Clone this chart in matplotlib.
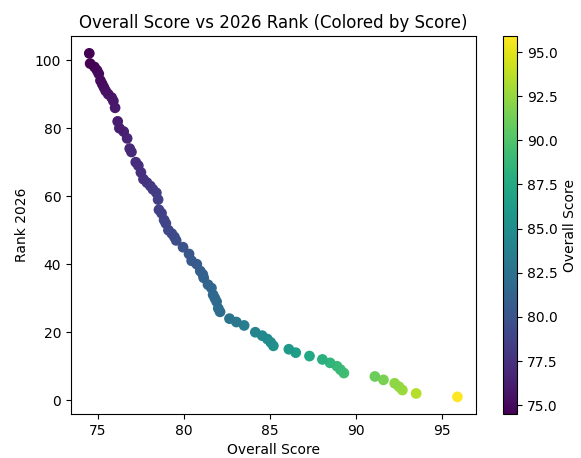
import matplotlib
matplotlib.use("Agg")
import matplotlib.pyplot as plt

# rank 2026 and overall score
ranks = [1, 2, 3, 4, 5, 6, 7, 8, 9, 10,
         11, 12, 13, 14, 15, 16, 17, 18, 19, 20,
         22, 23, 24, 26, 27, 29, 30, 31, 33, 34,
         36, 37, 38, 40, 41, 43, 45, 47, 48, 49,
         50, 52, 53, 55, 56, 59, 61, 62, 63, 64,
         65, 67, 69, 70, 73, 74, 77, 79, 80, 82,
         86, 88, 89, 90, 91, 92, 93, 94, 96, 97,
         98, 99, 102]
scores = [95.9, 93.5, 92.7, 92.5, 92.25, 91.6, 91.1, 89.3, 89.1, 88.9,
          88.5, 88.05, 87.3, 86.5, 86.1, 85.2, 85.05, 84.85, 84.55, 84.15,
          83.5, 83.05, 82.65, 82.1, 82.0, 81.9, 81.8, 81.7, 81.6, 81.4,
          81.15, 81.1, 80.95, 80.75, 80.45, 80.3, 79.95, 79.55, 79.45, 79.3,
          79.1, 78.95, 78.85, 78.7, 78.55, 78.5, 78.4, 78.2, 78.05, 77.85,
          77.65, 77.5, 77.35, 77.2, 76.95, 76.85, 76.7, 76.5, 76.25, 76.15,
          76.0, 75.9, 75.8, 75.6, 75.45, 75.35, 75.25, 75.15, 75.05, 74.95,
          74.8, 74.55, 74.5]

fig = plt.figure(figsize=(5.81, 4.58), dpi=100)
ax = fig.add_axes([0.122, 0.096, 0.697, 0.825])
cax = fig.add_axes([0.866, 0.096, 0.024, 0.825])

sc = ax.scatter(scores, ranks, c=scores, cmap="viridis", s=45)
ax.set_title("Overall Score vs 2026 Rank (Colored by Score)")
ax.set_xlabel("Overall Score")
ax.set_ylabel("Rank 2026")

cbar = fig.colorbar(sc, cax=cax)
cbar.set_label("Overall Score")

fig.savefig("out.png", dpi=100)
plt.close(fig)
